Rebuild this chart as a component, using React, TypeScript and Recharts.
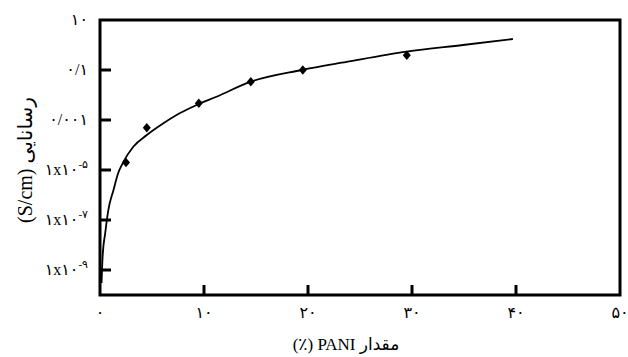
import { ComposedChart, Line, Scatter, XAxis, YAxis } from 'recharts'

// fitted curve
const curveX = [0.15, 0.25, 0.5, 0.8, 1.3, 1.75, 2.25, 3.2, 4.5, 6.1, 7.7, 9.3, 11.2, 14.5, 19.4, 23.7, 29.5, 34.9, 39.7]
const curveY = [3e-10, 3.4e-9, 3e-8, 2.5e-7, 1.6e-6, 7.6e-6, 2.1e-5, 8.5e-5, 2.5e-4, 7.4e-4, 1.9e-3, 4e-3, 8.5e-3, 0.034, 0.1, 0.21, 0.54, 1.0, 1.74]

// measured points
const pointX = [2.5, 4.5, 9.5, 14.5, 19.5, 29.5]
const pointY = [2.0e-5, 4.9e-4, 4.7e-3, 0.034, 0.1, 0.39]

const xTicks = [0, 10, 20, 30, 40, 50]
const xTickLabels = ['۰', '۱۰', '۲۰', '۳۰', '۴۰', '۵۰']
const xTickMarks = [10, 20, 30, 40]

const yTicks = [1e-9, 1e-7, 1e-5, 1e-3, 1e-1, 10]
const yTickBase = ['۱x۱۰', '۱x۱۰', '۱x۱۰', '۰/۰۰۱', '۰/۱', '۱۰']
const yTickExp = ['-۹', '-۷', '-۵', '', '', '']
const yTickMarks = [1e-9, 1e-7, 1e-5, 1e-3, 1e-1]

const curve = curveX.map((x, i) => ({ x, y: curveY[i] }))
const points = pointX.map((x, i) => ({ x, y: pointY[i] }))

const font = "'Liberation Serif', 'DejaVu Sans', serif"

// chart box
const W = 628
const H = 357
const margin = { top: 20, right: 8, left: 0, bottom: 32 }
const Y_AXIS_W = 100
const X_AXIS_H = 30
const X_DOMAIN = [0, 50]
const Y_DOMAIN = [1e-10, 10]

const plotLeft = margin.left + Y_AXIS_W
const plotTop = margin.top
const plotW = W - margin.right - plotLeft
const plotH = H - margin.bottom - X_AXIS_H - plotTop

const XTick = (props: any) => {
  const i = xTicks.indexOf(props.payload.value)
  return (
    <text x={props.x} y={Number(props.y) + 11} textAnchor="middle" fontSize={16} fill="#000" fontFamily={font}>
      {xTickLabels[i]}
    </text>
  )
}

const YTick = (props: any) => {
  const i = yTicks.findIndex(t => Math.abs(Math.log10(t) - Math.log10(props.payload.value)) < 0.01)
  if (i < 0) return null
  return (
    <text x={props.x} y={Number(props.y) + 5} textAnchor="end" fontSize={16} fill="#000" fontFamily={font}>
      {yTickBase[i]}
      {yTickExp[i] && <tspan dy={-7} fontSize={11}>{yTickExp[i]}</tspan>}
    </text>
  )
}

// box round the plot with inward tick marks, laid over the chart
const Frame = () => {
  const lx = Math.log10(Y_DOMAIN[0])
  const ly = Math.log10(Y_DOMAIN[1])
  const px = (v: number) => plotLeft + ((v - X_DOMAIN[0]) / (X_DOMAIN[1] - X_DOMAIN[0])) * plotW
  const py = (v: number) => plotTop + plotH - ((Math.log10(v) - lx) / (ly - lx)) * plotH
  const bottom = plotTop + plotH
  return (
    <svg width={W} height={H} style={{ position: 'absolute', left: 0, top: 0, pointerEvents: 'none' }}>
      <rect x={plotLeft} y={plotTop} width={plotW} height={plotH} fill="none" stroke="#000" strokeWidth={3} />
      {xTickMarks.map(t => (
        <line key={`x${t}`} x1={px(t)} x2={px(t)} y1={bottom} y2={bottom - 10} stroke="#000" strokeWidth={3} />
      ))}
      {yTickMarks.map(t => (
        <line key={`y${t}`} x1={plotLeft} x2={plotLeft + 11} y1={py(t)} y2={py(t)} stroke="#000" strokeWidth={3} />
      ))}
    </svg>
  )
}

const Diamond = ({ cx, cy }: any) => (
  <polygon points={`${cx},${cy - 4.7} ${cx + 4},${cy} ${cx},${cy + 4.7} ${cx - 4},${cy}`} fill="#000" />
)

export default function App() {
  return (
    <div style={{ position: 'absolute', left: 0, top: 0, width: W, height: H, background: '#fff' }}>
      <ComposedChart width={W} height={H} margin={margin}>
        <XAxis
          type="number"
          dataKey="x"
          domain={X_DOMAIN}
          ticks={xTicks}
          height={X_AXIS_H}
          stroke="#000"
          axisLine={false}
          tickMargin={6}
          tickLine={false}
          tick={<XTick />}
        />
        <YAxis
          type="number"
          dataKey="y"
          scale="log"
          domain={Y_DOMAIN}
          ticks={yTicks}
          width={Y_AXIS_W}
          stroke="#000"
          axisLine={false}
          tickMargin={6}
          tickLine={false}
          tick={<YTick />}
        />
        <Line data={curve} dataKey="y" type="monotone" stroke="#000" strokeWidth={1.8} dot={false} isAnimationActive={false} />
        <Scatter data={points} dataKey="y" fill="#000" shape={<Diamond />} isAnimationActive={false} />
      </ComposedChart>
      <Frame />
      <div
        dir="rtl"
        style={{
          position: 'absolute', left: 25, top: 160, width: 200, marginLeft: -100, marginTop: -12,
          height: 24, lineHeight: '24px', textAlign: 'center', transform: 'rotate(-90deg)',
          fontFamily: font, fontSize: 20, color: '#000', whiteSpace: 'nowrap'
        }}
      >
        رسانایی (S/cm)
      </div>
      <div
        dir="rtl"
        style={{
          position: 'absolute', left: 346, top: 345, width: 200, marginLeft: -100, marginTop: -12,
          height: 24, lineHeight: '24px', textAlign: 'center',
          fontFamily: font, fontSize: 17, color: '#000', whiteSpace: 'nowrap'
        }}
      >
        مقدار PANI (٪)
      </div>
    </div>
  )
}
